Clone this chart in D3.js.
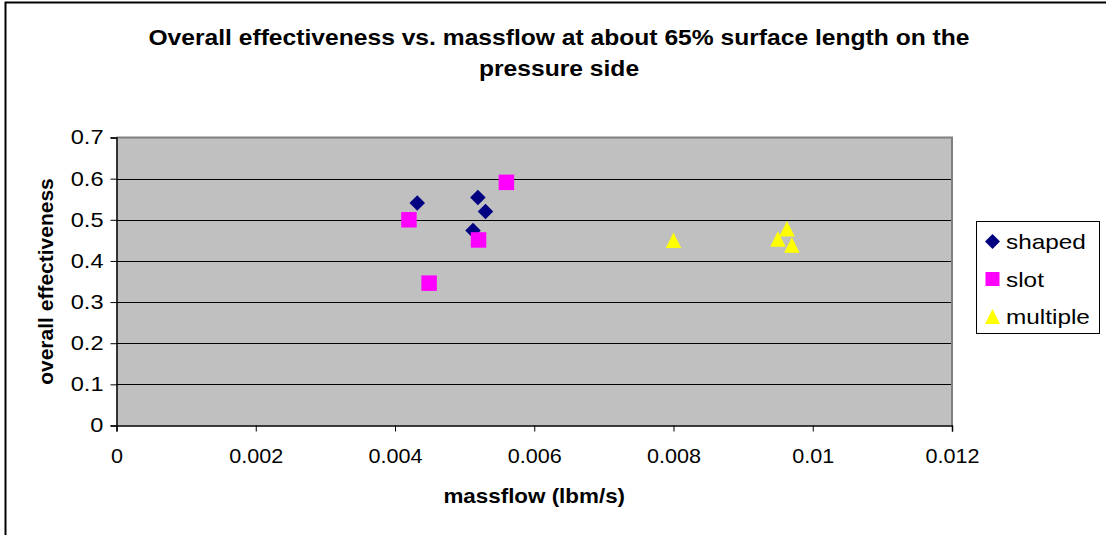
<!DOCTYPE html>
<html><head><meta charset="utf-8">
<script src="https://cdn.jsdelivr.net/npm/d3@7"></script>
<style>body{margin:0;background:#fff;}svg{display:block;font-family:"Liberation Sans",Arial,sans-serif;}</style>
</head><body>
<script>
const titleLines = ["Overall effectiveness vs. massflow at about 65% surface length on the", "pressure side"];
const xTitle = "massflow (lbm/s)";
const yTitle = "overall effectiveness";
const xTicks = [0, 0.002, 0.004, 0.006, 0.008, 0.01, 0.012];
const yTicks = [0, 0.1, 0.2, 0.3, 0.4, 0.5, 0.6, 0.7];
const seriesNames = ["shaped", "slot", "multiple"];
const shapedX = [0.00432, 0.00519, 0.00530, 0.00512];
const shapedY = [0.541, 0.554, 0.520, 0.474];
const slotX = [0.00420, 0.00560, 0.00520, 0.00449];
const slotY = [0.500, 0.591, 0.451, 0.346];
const multipleX = [0.00800, 0.00950, 0.00963, 0.00970];
const multipleY = [0.450, 0.453, 0.478, 0.439];

const W = 1106, H = 535;
const m = {l: 116.5, r: 952, t: 137.5, b: 425.5};
const FONT = '"Liberation Sans",Arial,sans-serif';
const svg = d3.select("body").append("svg").attr("width", W).attr("height", H);
svg.append("rect").attr("x", 5.5).attr("y", 2.5).attr("width", W + 10).attr("height", H + 10)
  .attr("fill", "#fff").attr("stroke", "#000").attr("stroke-width", 2);

const x = d3.scaleLinear().domain([0, 0.012]).range([m.l, m.r]);
const y = d3.scaleLinear().domain([0, 0.7]).range([m.b, m.t]);

svg.append("rect").attr("x", m.l).attr("y", m.t).attr("width", m.r - m.l).attr("height", m.b - m.t)
  .attr("fill", "#c0c0c0");

// gridlines
svg.append("g").selectAll("line").data(yTicks.filter(d => d > 0 && d < 0.7)).join("line")
  .attr("x1", m.l).attr("x2", m.r).attr("y1", d => Math.round(y(d)) + 0.5).attr("y2", d => Math.round(y(d)) + 0.5)
  .attr("stroke", "#000").attr("stroke-width", 1);
// plot border gray on top/right
svg.append("path").attr("d", `M${m.l},${m.t}H${m.r}V${m.b}`).attr("fill", "none").attr("stroke", "#808080").attr("stroke-width", 2);

const fmt = d => String(+d.toFixed(3));
const yAxis = svg.append("g").attr("transform", `translate(${m.l},0)`)
  .call(d3.axisLeft(y).tickValues(yTicks).tickSize(6).tickPadding(12).tickFormat(fmt));
const xAxis = svg.append("g").attr("transform", `translate(0,${m.b})`)
  .call(d3.axisBottom(x).tickValues(xTicks).tickSize(6).tickPadding(17).tickFormat(fmt));
[yAxis, xAxis].forEach(a => {
  a.attr("font-size", 20).attr("font-family", FONT);
  a.select(".domain").attr("stroke", "#000").attr("stroke-width", 1.5);
  a.selectAll(".tick line").attr("stroke", "#000");
  a.selectAll("text").attr("fill", "#000");
});
yAxis.selectAll(".tick text").attr("x", 0).attr("transform", "translate(-13,0) scale(1.18,1)");
xAxis.selectAll(".tick text").attr("transform", "scale(1.08,1)");

// custom symbols sized by bounding box
const diamond = s => `M0,${-s/2}L${s/2},0L0,${s/2}L${-s/2},0Z`;
const square = s => `M${-s/2},${-s/2}H${s/2}V${s/2}H${-s/2}Z`;
const triangle = s => `M0,${-s/2}L${s/2},${s/2}H${-s/2}Z`;

const series = [
  {name: seriesNames[0], xs: shapedX, ys: shapedY, sym: diamond, size: 15.5, color: "#000080", lsize: 15},
  {name: seriesNames[1], xs: slotX, ys: slotY, sym: square, size: 15.5, color: "#ff00ff", lsize: 14},
  {name: seriesNames[2], xs: multipleX, ys: multipleY, sym: triangle, size: 15.5, color: "#ffff00", lsize: 15}
];
series.forEach(s => {
  svg.append("g").selectAll("path").data(s.xs.map((v, i) => [v, s.ys[i]])).join("path")
    .attr("d", s.sym(s.size))
    .attr("transform", d => `translate(${x(d[0])},${y(d[1])})`)
    .attr("fill", s.color);
});

// titles
const t = svg.append("g").attr("transform", "translate(559,0) scale(1.12,1)");
titleLines.forEach((l, i) => t.append("text").attr("x", 0).attr("y", 45 + i * 31)
  .attr("text-anchor", "middle").attr("font-weight", "bold").attr("font-size", 22).text(l));
svg.append("text").attr("transform", `translate(${(m.l + m.r) / 2},503) scale(1.12,1)`).attr("text-anchor", "middle")
  .attr("font-weight", "bold").attr("font-size", 20).text(xTitle);
svg.append("text").attr("transform", `translate(53,${(m.t + m.b) / 2}) rotate(-90)`).attr("text-anchor", "middle")
  .attr("font-weight", "bold").attr("font-size", 21).text(yTitle);

// legend
const lg = svg.append("g");
lg.append("rect").attr("x", 976.5).attr("y", 221.5).attr("width", 123).attr("height", 112)
  .attr("fill", "#fff").attr("stroke", "#000").attr("stroke-width", 1);
series.forEach((s, i) => {
  const cy = 241.5 + i * 37.5;
  lg.append("path").attr("d", s.sym(s.lsize))
    .attr("transform", `translate(992.5,${cy})`).attr("fill", s.color);
  lg.append("text").attr("transform", `translate(1006,${cy + 7.5}) scale(1.16,1)`).attr("font-size", 21).text(s.name);
});
</script>
</body></html>
